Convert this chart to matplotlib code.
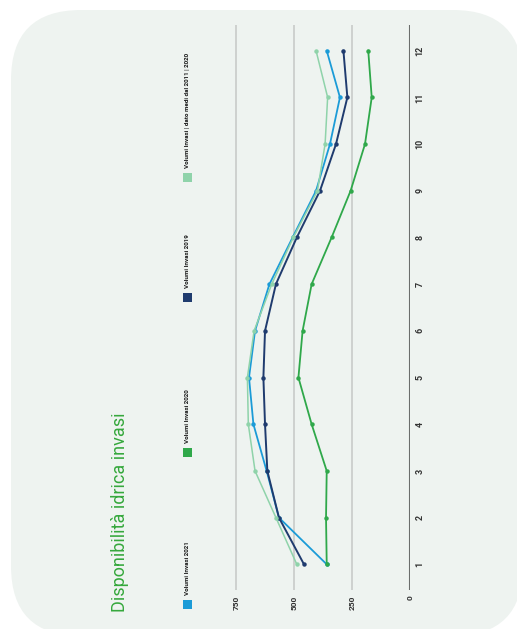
import matplotlib
matplotlib.use("Agg")
import matplotlib.pyplot as plt
from matplotlib.patches import FancyBboxPatch, Rectangle

months = [1, 2, 3, 4, 5, 6, 7, 8, 9, 10, 11, 12]
month_labels = ["1", "2", "3", "4", "5", "6", "7", "8", "9", "10", "11", "12"]
v2021 = [359, 565, 618, 675, 694, 668, 606, 506, 405, 345, 302, 359]
v2020 = [359, 362, 359, 424, 481, 463, 424, 338, 256, 194, 165, 180]
v2019 = [457, 565, 615, 625, 632, 625, 578, 488, 388, 319, 270, 287]
vavg = [488, 578, 668, 697, 701, 672, 596, 503, 399, 366, 355, 405]
value_ticks = [0, 250, 500, 750]
series_names = ["Volumi Invasi 2021", "Volumi Invasi 2020", "Volumi Invasi 2019",
                "Volumi Invasi | dato medi dal 2011 | 2020"]
colors = ["#1b9bd7", "#2fa84a", "#1f3b6e", "#8fd3aa"]
title = "Disponibilità idrica invasi"

W, H = 517, 629
fig = plt.figure(figsize=(W / 100, H / 100), dpi=100)
fig.patch.set_facecolor("white")

def px(x, y):
    return (x / 100, (H - y) / 100)

bg = FancyBboxPatch(px(11, 636), 5.12, 6.26, boxstyle="round,pad=0,rounding_size=0.7",
                    transform=fig.dpi_scale_trans, facecolor="#eef3f0", edgecolor="none",
                    zorder=-5)
fig.patches.append(bg)

L, R = 233.7, 410
B, T = 590, 25
ax = fig.add_axes([L / W, (H - B) / H, (R - L) / W, (B - T) / H])
ax.set_zorder(2)
ax.set_facecolor("none")
ax.set_xlim(760, 0)
ax.set_ylim(0.45, 12.55)
for s in ax.spines.values():
    s.set_visible(False)

for v in value_ticks[1:]:
    ax.axvline(v, color="#c8cbc9", lw=1.2, zorder=0)
ax.axvline(0, color="#6b6e6c", lw=1.5, zorder=1)

data = [v2021, v2020, v2019, vavg]
order = [3, 1, 0, 2]
widths = [1.3, 1.3, 1.4, 1.1]
for i in order:
    ax.plot(data[i], months, color=colors[i], lw=widths[i], marker="o", ms=2.2, zorder=3 + i)

cond = ["Liberation Sans Narrow", "Roboto", "DejaVu Sans"]
ax.set_xticks(value_ticks)
ax.set_xticklabels([str(v) for v in value_ticks], rotation=90, fontsize=6,
                   fontweight="bold", color="#333333", family=cond)
ax.set_yticks(months)
ax.set_yticklabels(month_labels, rotation=90, fontsize=6.5, fontweight="bold",
                   color="#333333", va="center", family=cond)
ax.yaxis.tick_right()
ax.tick_params(axis="both", length=0, pad=4)

fig.text(120 / W, (H - 612) / H, title, rotation=90, color="#35a83c", fontsize=13,
         ha="center", va="bottom", family=cond)

leg_y = [609, 457, 302, 182]
for name, c, y in zip(series_names, colors, leg_y):
    fig.patches.append(Rectangle(px(183, y), 0.09, 0.09, transform=fig.dpi_scale_trans,
                                 facecolor=c, edgecolor="none"))
    fig.text(187.5 / W, (H - (y - 14)) / H, name, rotation=90, fontsize=4.5, fontweight="bold",
             color="#1a1a1a", ha="center", va="bottom", family=cond)

fig.savefig("out.png", dpi=100)
